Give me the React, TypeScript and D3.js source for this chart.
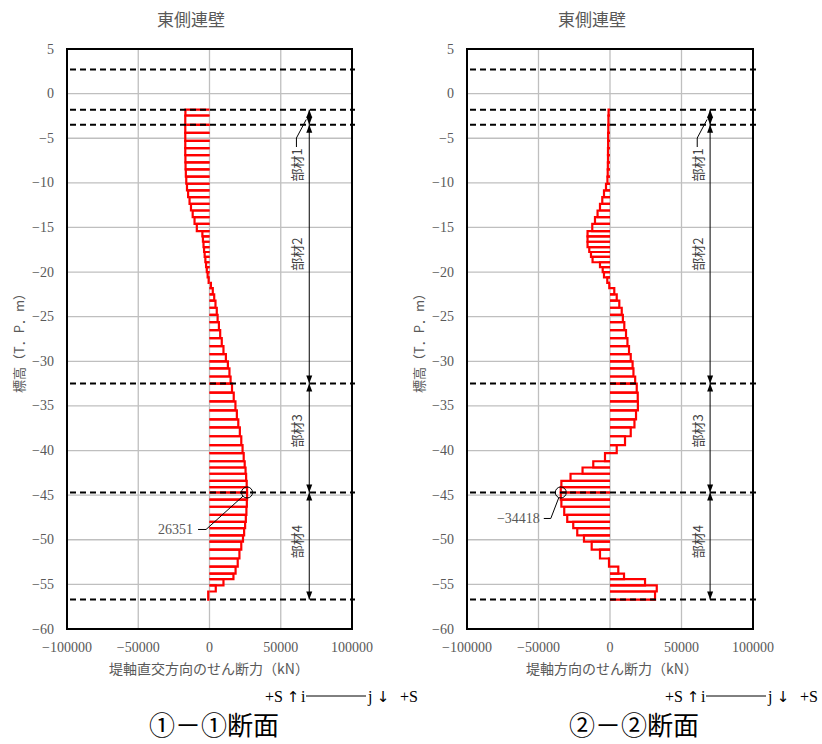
import React from "react";
import * as d3 from "d3";

// Node elevations (T.P. m) of the wall elements, top to bottom
const nodeElevations = [
  -1.8, -2.45, -3.5,
  -4.4, -5.3, -6.1, -6.9, -7.7, -8.5, -9.3, -10.1,
  -10.85, -11.6, -12.35, -13.1, -13.85, -14.6,
  -15.4, -16.0, -16.6, -17.2, -17.75, -18.3,
  -18.9, -19.45, -20.0, -20.6, -21.2, -21.8,
  -22.5, -23.2, -24.0, -24.8, -25.6, -26.5,
  -27.4, -28.3, -29.2, -30.0, -30.8, -31.7, -32.5,
  -33.5, -34.5, -35.5, -36.5, -37.4, -38.4, -39.4, -40.3, -41.2, -41.9, -42.6, -43.4, -44.1, -44.7,
  -45.5, -46.3, -47.2, -48.0, -48.7, -49.5, -50.2, -51.1, -52.1, -53.0, -53.8, -54.4, -55.1, -55.8, -56.7,
];

// Element shear forces (kN), section 1-1 (perpendicular to dike axis)
const shear11 = [
  -16900, -17000,
  -17000, -17000, -17000, -17000, -16900, -16800, -16600, -16300,
  -15800, -15000, -14000, -13000, -11800, -10500,
  -8900, -5000, -4600, -4200, -3800, -3400,
  -2900, -2400, -1900, -1300, -600, 1000,
  2300, 3300, 4200, 5100, 5700, 6600,
  7500, 8600, 9800, 11500, 12900, 14000, 14800,
  15800, 17000, 18200, 19200, 20200, 21300, 22300, 23200, 24000, 24700, 25300, 25700, 26100, 26351,
  26351, 26200, 25900, 25500, 25000, 24300, 23500, 22300, 21000, 19800, 18300, 16800, 9800, 4400, -900,
];

// Element shear forces (kN), section 2-2 (dike axis direction)
const shear22 = [
  -1000, -1100,
  -1200, -1300, -1300, -1400, -1400, -1500, -1600, -1800,
  -2800, -4200, -5400, -7000, -8700, -10500,
  -12400, -15700, -15700, -15700, -14500, -13300,
  -12200, -7000, -5100, -4200, -1900, -500,
  3000, 4700, 6500, 8200, 9000, 10000,
  11200, 12200, 13300, 14500, 15800, 16400, 17600,
  18700, 19400, 19500, 18200, 17100, 14500, 10500, 4700, -3500, -11700, -19200, -27600, -34000, -34418,
  -34418, -34000, -32000, -29900, -25700, -22900, -18200, -12800, -7000, -700, 5800, 9800, 24500, 32700, 31500,
];

const boundaryElevations = [2.7, -1.8, -3.5, -32.5, -44.7, -56.7];
const memberBounds = [-1.8, -3.5, -32.5, -44.7, -56.7];
const memberNames = ["部材1", "部材2", "部材3", "部材4"];
const memberLabelElev = [-8, -18, -37.8, -50.2];
const dimensionValue = 70000;
const memberLabelValue = 61000;

const xTickValues = [-100000, -50000, 0, 50000, 100000];
const xTickLabels = ["−100000", "−50000", "0", "50000", "100000"];
const yTickValues = [5, 0, -5, -10, -15, -20, -25, -30, -35, -40, -45, -50, -55, -60];
const yTickLabels = ["5", "0", "−5", "−10", "−15", "−20", "−25", "−30", "−35", "−40", "−45", "−50", "−55", "−60"];

const peakValues = [26351, -34418];
const peakElevations = [-44.7, -44.7];
const peakLabels = ["26351", "−34418"];

const panels = [
  {
    left: 67,
    width: 285,
    values: shear11,
    title: "東側連壁",
    titleX: 191,
    xTitle: "堤軸直交方向のせん断力（kN）",
    xTitleX: 209,
    section: "①－①断面",
    sectionX: 214,
    peakIdx: 0,
    callout: { labelDx: -54, labelDy: 37, startDx: -49, elbowDx: -41 },
  },
  {
    left: 467,
    width: 286,
    values: shear22,
    title: "東側連壁",
    titleX: 592,
    xTitle: "堤軸方向のせん断力（kN）",
    xTitleX: 612,
    section: "②－②断面",
    sectionX: 634,
    peakIdx: 1,
    callout: { labelDx: -21, labelDy: 26, startDx: -17, elbowDx: -10 },
  },
];

const TOP = 49;
const BOTTOM = 629;
const GRAY = "#595959";
const SERIF = "'Liberation Serif', 'Times New Roman', 'DejaVu Serif', serif";
const CJK = "'Noto Sans CJK JP', 'Noto Sans', sans-serif";
const ARROWFONT = "'DejaVu Sans', sans-serif";

const serifStyle = { fontFamily: SERIF } as React.CSSProperties;
const cjkStyle = { fontFamily: CJK } as React.CSSProperties;

function Arrow({ x, y, dir }: { x: number; y: number; dir: number }) {
  const len = 8;
  const hw = 3;
  const by = y - dir * len;
  return <polygon points={`${x},${y} ${x - hw},${by} ${x + hw},${by}`} fill="#000" />;
}

function Panel({ cfg }: { cfg: (typeof panels)[number] }) {
  const x = d3.scaleLinear().domain([-100000, 100000]).range([cfg.left, cfg.left + cfg.width]);
  const y = d3.scaleLinear().domain([5, -60]).range([TOP, BOTTOM]);
  const right = cfg.left + cfg.width;
  const x0 = x(0);

  const gridX = [-50000, 0, 50000];
  const gridY = d3.range(0, -60, -5);

  const elements = cfg.values.map((v, i) => {
    const yt = y(nodeElevations[i]);
    const yb = y(nodeElevations[i + 1]);
    const p = d3.path();
    p.moveTo(x0, yt);
    p.lineTo(x(v), yt);
    p.lineTo(x(v), yb);
    p.lineTo(x0, yb);
    return p.toString();
  });

  const dx = x(dimensionValue);
  const pv = peakValues[cfg.peakIdx];
  const pe = peakElevations[cfg.peakIdx];
  const cx = x(pv);
  const cy = y(pe);
  const r = 5.5;
  const c = cfg.callout;
  const ly = cy + c.labelDy;
  const ex = cx + c.elbowDx;
  const ddx = cx - ex;
  const ddy = cy - ly;
  const dl = Math.sqrt(ddx * ddx + ddy * ddy);
  const endX = cx - (r * ddx) / dl;
  const endY = cy - (r * ddy) / dl;

  const labelX = x(memberLabelValue);
  const m1LabelTop = y(memberLabelElev[0]) - 18;

  return (
    <g>
      <text x={cfg.titleX} y={26} textAnchor="middle" style={cjkStyle} fontSize={17} fill={GRAY}>
        {cfg.title}
      </text>

      {gridX.map((g) => (
        <line key={"gx" + g} x1={x(g)} x2={x(g)} y1={TOP} y2={BOTTOM} stroke="#bfbfbf" strokeWidth={1.3} />
      ))}
      {gridY.map((g) => (
        <line key={"gy" + g} x1={cfg.left} x2={right} y1={y(g)} y2={y(g)} stroke="#bfbfbf" strokeWidth={1.3} />
      ))}

      {elements.map((d, i) => (
        <path key={"e" + i} d={d} fill="none" stroke="#ff0000" strokeWidth={2.2} strokeLinejoin="miter" />
      ))}

      {boundaryElevations.map((b) => (
        <line
          key={"b" + b}
          x1={cfg.left + 3}
          x2={right + 3}
          y1={y(b)}
          y2={y(b)}
          stroke="#000"
          strokeWidth={2}
          strokeDasharray="6,4"
        />
      ))}

      <rect x={cfg.left} y={TOP} width={cfg.width} height={BOTTOM - TOP} fill="none" stroke="#000" strokeWidth={2} />

      <line x1={dx} x2={dx} y1={y(memberBounds[0])} y2={y(memberBounds[memberBounds.length - 1])} stroke="#000" strokeWidth={1} />
      {memberBounds.map((b, i) => (
        <g key={"a" + i}>
          {i < memberBounds.length - 1 && <Arrow x={dx} y={y(b)} dir={-1} />}
          {i > 0 && <Arrow x={dx} y={y(b)} dir={1} />}
        </g>
      ))}
      <polyline
        points={`${labelX},${m1LabelTop} ${labelX},${m1LabelTop - 9} ${dx - 3},${y(-2.9)}`}
        fill="none"
        stroke="#000"
        strokeWidth={1}
      />
      {memberNames.map((m, i) => (
        <text
          key={m}
          transform={`translate(${labelX},${y(memberLabelElev[i])}) rotate(-90)`}
          textAnchor="middle"
          dominantBaseline="central"
          style={cjkStyle}
          fontSize={13}
          fill="#404040"
        >
          {m}
        </text>
      ))}

      <circle cx={cx} cy={cy} r={r} fill="none" stroke="#000" strokeWidth={1} />
      <polyline
        points={`${cx + c.startDx},${ly} ${ex},${ly} ${endX},${endY}`}
        fill="none"
        stroke="#000"
        strokeWidth={1}
      />
      <text x={cx + c.labelDx} y={ly} textAnchor="end" dominantBaseline="central" style={serifStyle} fontSize={14} fill={GRAY}>
        {peakLabels[cfg.peakIdx]}
      </text>

      {yTickValues.map((v, i) => (
        <text key={"yt" + v} x={cfg.left - 13} y={y(v)} textAnchor="end" dominantBaseline="central" style={serifStyle} fontSize={14} fill={GRAY}>
          {yTickLabels[i]}
        </text>
      ))}
      {xTickValues.map((v, i) => (
        <text key={"xt" + v} x={x(v)} y={647} textAnchor="middle" dominantBaseline="central" style={serifStyle} fontSize={14} fill={GRAY}>
          {xTickLabels[i]}
        </text>
      ))}

      <text x={cfg.xTitleX} y={668} textAnchor="middle" dominantBaseline="central" style={cjkStyle} fontSize={14} fill={GRAY}>
        {cfg.xTitle}
      </text>
      <text
        transform={`translate(${cfg.left - 49},${340}) rotate(-90)`}
        textAnchor="middle"
        dominantBaseline="central"
        style={cjkStyle}
        fontSize={13}
        fill={GRAY}
      >
        標高（T．P．m）
      </text>

      <g fontSize={16} fill="#000">
        <text x={cfg.left + 198} y={702} style={serifStyle}>+S</text>
        <text x={cfg.left + 226} y={702} textAnchor="middle" style={{ fontFamily: ARROWFONT }} fontSize={15}>↑</text>
        <text x={cfg.left + 234} y={702} style={serifStyle}>i</text>
        <line x1={cfg.left + 239} x2={cfg.left + 299} y1={696} y2={696} stroke="#000" strokeWidth={1} />
        <text x={cfg.left + 301} y={702} style={serifStyle}>j</text>
        <text x={cfg.left + 316} y={702} textAnchor="middle" style={{ fontFamily: ARROWFONT }} fontSize={15}>↓</text>
        <text x={cfg.left + 333} y={702} style={serifStyle}>+S</text>
      </g>

      <text x={cfg.sectionX} y={735} textAnchor="middle" style={cjkStyle} fontSize={26} fill="#000">
        {cfg.section}
      </text>
    </g>
  );
}

export default function App() {
  return (
    <svg
      width={822}
      height={744}
      viewBox="0 0 822 744"
      style={{ position: "absolute", left: 0, top: 0, background: "#fff" }}
    >
      <rect x={0} y={0} width={822} height={744} fill="#fff" />
      {panels.map((p, i) => (
        <Panel key={i} cfg={p} />
      ))}
    </svg>
  );
}
